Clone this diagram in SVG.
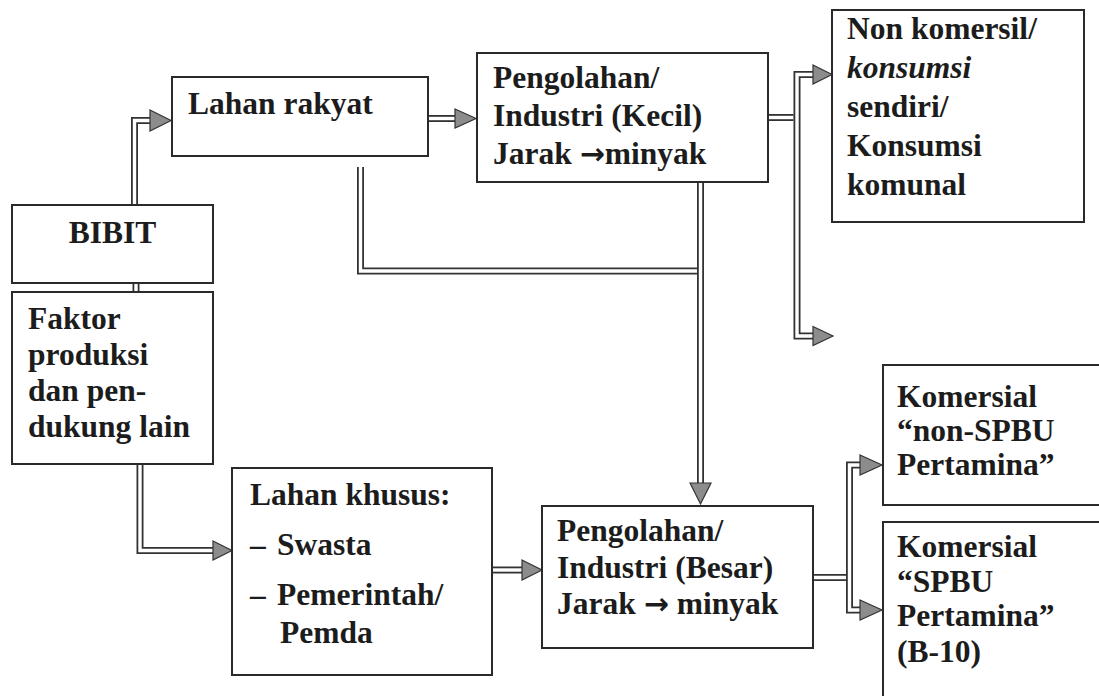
<svg xmlns="http://www.w3.org/2000/svg" width="1099" height="696" viewBox="0 0 1099 696">
<style>
.box{fill:#ffffff;stroke:#2a2a2a;stroke-width:2}
.t{font-family:"Liberation Serif","Times New Roman",serif;font-weight:bold;font-size:31.5px;fill:#1c1c1c}
.it{font-style:italic}
.arr{font-family:"DejaVu Sans","Noto Sans",sans-serif;font-weight:bold;font-size:30px}
.outer{fill:none;stroke:#333333;stroke-width:7;stroke-linejoin:miter;stroke-linecap:butt}
.inner{fill:none;stroke:#ffffff;stroke-width:3.4;stroke-linejoin:miter;stroke-linecap:butt}
.head{fill:#8c8c8c;stroke:#333333;stroke-width:1.2;stroke-linejoin:miter}
</style>
<rect width="1099" height="696" fill="#ffffff"/>

<g id="connectors">
  <path class="outer" d="M134.5 205 V120.5 H150"/>
  <path class="inner" d="M134.5 205 V120.5 H150"/>
  <polygon class="head" points="150,110 171,120.5 150,131"/>
  <path class="outer" d="M136 283 V292"/>
  <path class="inner" d="M136 283 V292"/>
  <path class="outer" d="M428 118.5 H455"/>
  <path class="inner" d="M428 118.5 H455"/>
  <polygon class="head" points="455,109 476,118.5 455,128"/>
  <path class="outer" d="M700.5 182 V483"/>
  <path class="inner" d="M700.5 182 V483"/>
  <polygon class="head" points="690,483 700.5,504 711,483"/>
  <path class="outer" d="M360.5 167 V271 H697"/>
  <path class="inner" d="M360.5 167 V271 H697"/>
  <path class="outer" d="M768 117.5 H793.5"/>
  <path class="inner" d="M768 117.5 H793.5"/>
  <path class="outer" d="M813 74.5 H797 V336 H813"/>
  <path class="inner" d="M813 74.5 H797 V336 H813"/>
  <polygon class="head" points="813,65 832,74.5 813,84"/>
  <polygon class="head" points="813,326.5 833,336 813,345.5"/>
  <path class="outer" d="M140 464 V550.5 H213"/>
  <path class="inner" d="M140 464 V550.5 H213"/>
  <polygon class="head" points="213,541 232,550.5 213,560"/>
  <path class="outer" d="M492 570 H522"/>
  <path class="inner" d="M492 570 H522"/>
  <polygon class="head" points="522,560 542,570 522,580"/>
  <path class="outer" d="M813 577.5 H846"/>
  <path class="inner" d="M813 577.5 H846"/>
  <path class="outer" d="M860 465 H849.5 V610 H860"/>
  <path class="inner" d="M860 465 H849.5 V610 H860"/>
  <polygon class="head" points="860,455 882,465 860,475"/>
  <polygon class="head" points="860,600 882,610 860,620"/>
</g>

<g id="node-lahan-rakyat">
  <rect class="box" x="172" y="77" width="256" height="79"/>
  <text class="t" x="188" y="114">Lahan rakyat</text>
</g>

<g id="node-pengolahan-kecil">
  <rect class="box" x="477" y="53" width="291" height="129"/>
  <text class="t" x="493" y="88">Pengolahan/</text>
  <text class="t" x="493" y="126">Industri (Kecil)</text>
  <text class="t" x="493" y="164">Jarak <tspan class="arr">→</tspan>minyak</text>
</g>

<g id="node-non-komersil">
  <rect class="box" x="832" y="10" width="252" height="212"/>
  <text class="t" x="847" y="39">Non komersil/</text>
  <text class="t it" x="847" y="78">konsumsi</text>
  <text class="t" x="847" y="117">sendiri/</text>
  <text class="t" x="847" y="156">Konsumsi</text>
  <text class="t" x="847" y="195">komunal</text>
</g>

<g id="node-bibit">
  <rect class="box" x="12" y="205" width="201" height="78"/>
  <text class="t" x="112.5" y="243" text-anchor="middle">BIBIT</text>
</g>

<g id="node-faktor">
  <rect class="box" x="12" y="292" width="201" height="172"/>
  <text class="t" x="28" y="329">Faktor</text>
  <text class="t" x="28" y="365">produksi</text>
  <text class="t" x="28" y="401">dan pen-</text>
  <text class="t" x="28" y="437">dukung lain</text>
</g>

<g id="node-lahan-khusus">
  <rect class="box" x="232" y="468" width="260" height="207"/>
  <text class="t" x="250" y="505">Lahan khusus:</text>
  <text class="t" y="555"><tspan x="250">–</tspan><tspan x="277">Swasta</tspan></text>
  <text class="t" y="605"><tspan x="250">–</tspan><tspan x="277">Pemerintah/</tspan></text>
  <text class="t" x="280" y="643">Pemda</text>
</g>

<g id="node-pengolahan-besar">
  <rect class="box" x="542" y="506" width="271" height="142"/>
  <text class="t" x="557" y="541">Pengolahan/</text>
  <text class="t" x="557" y="578">Industri (Besar)</text>
  <text class="t" x="557" y="614">Jarak <tspan class="arr">→</tspan> minyak</text>
</g>

<g id="node-komersial-non-spbu">
  <rect class="box" x="883" y="365" width="222" height="140"/>
  <text class="t" x="897" y="407">Komersial</text>
  <text class="t" x="897" y="441">“non-SPBU</text>
  <text class="t" x="897" y="475">Pertamina”</text>
</g>

<g id="node-komersial-spbu">
  <rect class="box" x="883" y="522" width="222" height="180"/>
  <text class="t" x="897" y="557">Komersial</text>
  <text class="t" x="897" y="592">“SPBU</text>
  <text class="t" x="897" y="626">Pertamina”</text>
  <text class="t" x="897" y="662">(B-10)</text>
</g>
</svg>
